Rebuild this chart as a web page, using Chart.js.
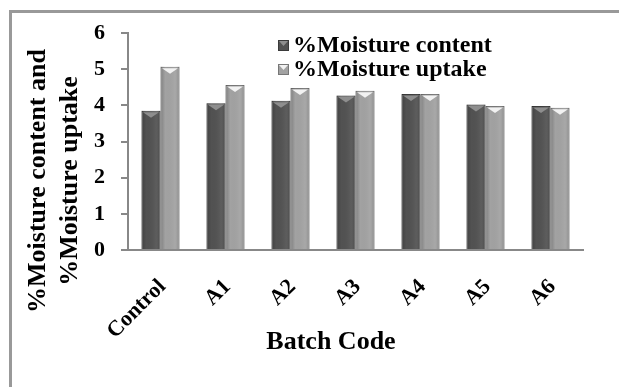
<!DOCTYPE html>
<html>
<head>
<meta charset="utf-8">
<script src="https://cdn.jsdelivr.net/npm/chart.js@4"></script>
<style>
  body { margin: 0; background: #fff; width: 619px; height: 387px; overflow: hidden; }
  #frame { position: absolute; left: 9px; top: 10px; width: 700px; height: 500px; border: 3px solid #999; }
  #myChart { position: absolute; left: 0; top: 0; }
</style>
</head>
<body>
<div id="frame"></div>
<canvas id="myChart" width="619" height="387"></canvas>
<script>
const ctx = document.getElementById('myChart')

const categories = ['Control', 'A1', 'A2', 'A3', 'A4', 'A5', 'A6']
const moistureContent = [3.85, 4.06, 4.13, 4.27, 4.31, 4.02, 3.98]
const moistureUptake = [5.07, 4.56, 4.48, 4.40, 4.31, 3.98, 3.93]
const seriesNames = ['%Moisture content', '%Moisture uptake']
const yTitle = ['%Moisture content and', '%Moisture uptake']
const xTitle = 'Batch Code'

const serif = "'Liberation Serif', 'Times New Roman', serif"

// shading + little "v" cap on top of every bar, like the excel 3d look
const barShade = {
  id: 'barShade',
  afterDatasetsDraw(chart) {
    const c = chart.ctx
    chart.data.datasets.forEach((ds, i) => {
      chart.getDatasetMeta(i).data.forEach(bar => {
        const {x, y, base, width} = bar.getProps(['x', 'y', 'base', 'width'], true)
        const l = x - width / 2
        const g = c.createLinearGradient(l, 0, l + width, 0)
        g.addColorStop(0, 'rgba(0,0,0,0.22)')
        g.addColorStop(0.25, 'rgba(0,0,0,0)')
        g.addColorStop(0.75, 'rgba(255,255,255,0.06)')
        g.addColorStop(1, 'rgba(0,0,0,0.18)')
        c.save()
        c.fillStyle = g
        c.fillRect(l, y, width, base - y)
        c.fillStyle = ds.capColor
        c.beginPath()
        c.moveTo(l + 1.5, y + 1.5)
        c.lineTo(l + width - 1.5, y + 1.5)
        c.lineTo(x, y + 7)
        c.closePath()
        c.fill()
        c.restore()
      })
    })
  }
}

// legend inside the plot + axis titles placed like the original
const extras = {
  id: 'extras',
  afterDraw(chart) {
    const c = chart.ctx
    c.save()
    c.textBaseline = 'middle'
    c.font = 'bold 24px ' + serif
    chart.data.datasets.forEach((ds, i) => {
      const cy = 45 + i * 24
      c.fillStyle = ds.backgroundColor
      c.fillRect(278, cy - 5, 11, 11)
      c.strokeStyle = ds.borderColor
      c.lineWidth = 1
      c.strokeRect(278.5, cy - 4.5, 10, 10)
      c.fillStyle = ds.capColor
      c.beginPath()
      c.moveTo(279, cy - 4)
      c.lineTo(288, cy - 4)
      c.lineTo(283.5, cy + 1)
      c.closePath()
      c.fill()
      c.fillStyle = '#000'
      c.textAlign = 'left'
      c.fillText(ds.label, 293, cy + 1)
    })

    c.textAlign = 'center'
    c.font = 'bold 26px ' + serif
    c.fillText(xTitle, 331, 342)

    c.font = 'bold 26px ' + serif
    c.translate(0, 181)
    c.rotate(-Math.PI / 2)
    c.fillText(yTitle[0], 0, 38)
    c.fillText(yTitle[1], 0, 70)
    c.restore()
  }
}

new Chart(ctx, {
  type: 'bar',
  data: {
    labels: categories,
    datasets: [
      {
        label: seriesNames[0],
        data: moistureContent,
        backgroundColor: '#525252',
        borderColor: '#3a3a3a',
        capColor: '#8e8e8e',
        borderWidth: 1
      },
      {
        label: seriesNames[1],
        data: moistureUptake,
        backgroundColor: '#a2a2a2',
        borderColor: '#777777',
        capColor: '#f2f2f2',
        borderWidth: 1
      }
    ]
  },
  options: {
    responsive: false,
    animation: false,
    layout: {
      padding: {left: 0, top: 33, right: 36, bottom: 0}
    },
    datasets: {
      bar: {
        categoryPercentage: 0.585,
        barPercentage: 1.0
      }
    },
    plugins: {
      legend: {display: false},
      tooltip: {enabled: false}
    },
    scales: {
      x: {
        afterFit(scale) { scale.height = 137 },
        grid: {display: false},
        border: {color: '#888', width: 2},
        ticks: {
          color: '#000',
          font: {family: serif, size: 22, weight: 'bold'},
          minRotation: 45,
          maxRotation: 45,
          labelOffset: 2,
          padding: 16,
          autoSkip: false
        }
      },
      y: {
        min: 0,
        max: 6,
        afterFit(scale) { scale.width = 128 },
        grid: {drawOnChartArea: false, drawTicks: true, tickLength: 7, color: '#888', lineWidth: 2},
        border: {color: '#888', width: 2},
        ticks: {
          stepSize: 1,
          color: '#000',
          padding: 16,
          font: {family: serif, size: 22, weight: 'bold'}
        }
      }
    }
  },
  plugins: [barShade, extras]
})
</script>
</body>
</html>
